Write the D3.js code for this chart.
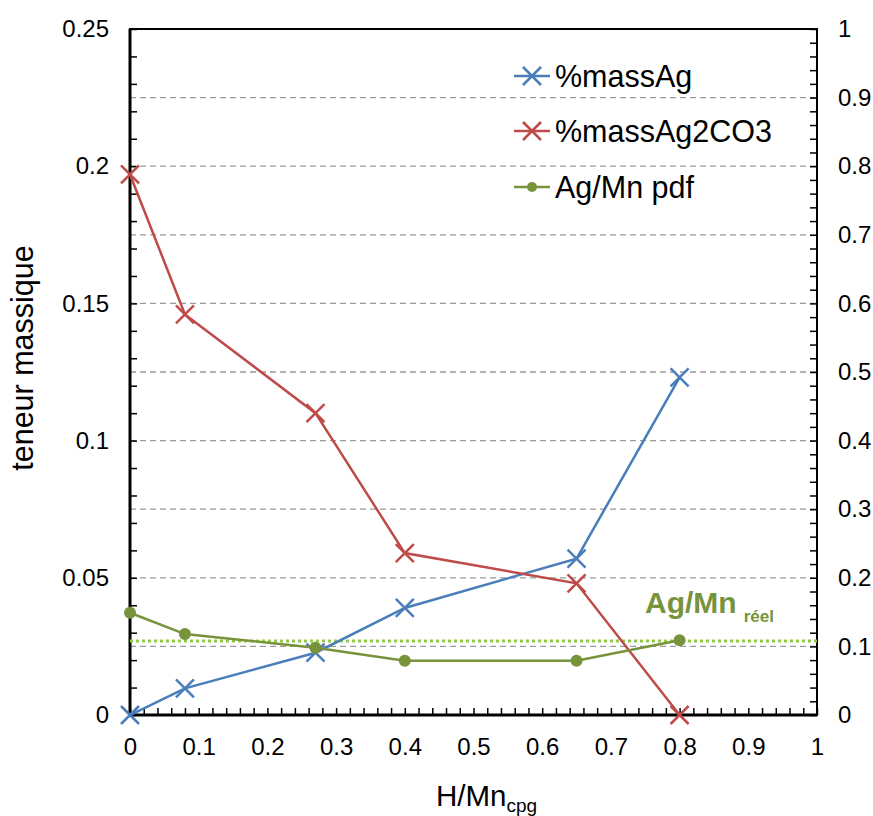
<!DOCTYPE html>
<html><head><meta charset="utf-8">
<script src="https://cdn.jsdelivr.net/npm/d3@7"></script>
<style>body{margin:0;background:#fff}svg{display:block}text{font-family:"Liberation Sans",Arial,sans-serif}</style>
</head><body>
<script>
// Data
const hMn = [0, 0.08, 0.27, 0.4, 0.65, 0.8];
const massAg = [0, 0.0097, 0.0227, 0.039, 0.057, 0.123];
const massAg2CO3 = [0.197, 0.146, 0.110, 0.059, 0.048, 0];
const agMnPdf = [0.149, 0.118, 0.098, 0.079, 0.079, 0.109];
const agMnReel = 0.108;
const leftTicks = [0, 0.05, 0.1, 0.15, 0.2, 0.25];
const rightTicks = [0, 0.1, 0.2, 0.3, 0.4, 0.5, 0.6, 0.7, 0.8, 0.9, 1];
const xTicks = [0, 0.1, 0.2, 0.3, 0.4, 0.5, 0.6, 0.7, 0.8, 0.9, 1];
const seriesNames = ["%massAg", "%massAg2CO3", "Ag/Mn pdf"];

const W = 873, H = 816;
const L = 130, R = 817, T = 29, B = 715;
const svg = d3.select("body").append("svg").attr("width", W).attr("height", H);

const x = d3.scaleLinear().domain([0, 1]).range([L, R]);
const yL = d3.scaleLinear().domain([0, 0.25]).range([B, T]);
const yR = d3.scaleLinear().domain([0, 1]).range([B, T]);
const fmt = d => String(+(+d).toFixed(2));

// gridlines (right axis 0.1 steps)
svg.append("g").selectAll("line").data(rightTicks.filter(d => d > 0 && d < 1)).join("line")
  .attr("x1", L).attr("x2", R).attr("y1", d => yR(d)).attr("y2", d => yR(d))
  .attr("stroke", "#9a9a9a").attr("stroke-width", 1.3).attr("stroke-dasharray", "6,4");

// minor ticks
const minorL = d3.range(0, 0.2501, 0.01);
const minorR = d3.range(0, 1.0001, 0.02);
const minorX = d3.range(0, 1.0001, 0.02);
svg.append("g").attr("transform", `translate(${L},0)`)
  .call(d3.axisLeft(yL).tickValues(minorL).tickSize(-7).tickFormat(""))
  .call(g => { g.select(".domain").remove(); g.selectAll("line").attr("stroke", "#000").attr("stroke-width", 1.5); });
svg.append("g").attr("transform", `translate(${R},0)`)
  .call(d3.axisRight(yR).tickValues(minorR).tickSize(-7).tickFormat(""))
  .call(g => { g.select(".domain").remove(); g.selectAll("line").attr("stroke", "#000").attr("stroke-width", 1.5); });
svg.append("g").attr("transform", `translate(0,${B})`)
  .call(d3.axisBottom(x).tickValues(minorX).tickSize(-7).tickFormat(""))
  .call(g => { g.select(".domain").remove(); g.selectAll("line").attr("stroke", "#000").attr("stroke-width", 1.5); });

// labels
svg.append("g").attr("transform", `translate(${L},0)`)
  .call(d3.axisLeft(yL).tickValues(leftTicks).tickSize(0).tickPadding(21).tickFormat(fmt))
  .call(g => { g.select(".domain").remove(); g.selectAll("text").attr("font-size", 24).attr("fill", "#000"); });
svg.append("g").attr("transform", `translate(${R},0)`)
  .call(d3.axisRight(yR).tickValues(rightTicks).tickSize(0).tickPadding(21).tickFormat(fmt))
  .call(g => { g.select(".domain").remove(); g.selectAll("text").attr("font-size", 24).attr("fill", "#000"); });
svg.append("g").attr("transform", `translate(0,${B})`)
  .call(d3.axisBottom(x).tickValues(xTicks).tickSize(0).tickPadding(23).tickFormat(fmt))
  .call(g => { g.select(".domain").remove(); g.selectAll("text").attr("font-size", 24).attr("fill", "#000"); });

// frame
svg.append("rect").attr("x", L).attr("y", T).attr("width", R - L).attr("height", B - T)
  .attr("fill", "none").attr("stroke", "#000").attr("stroke-width", 2);
svg.append("line").attr("x1", L).attr("x2", L).attr("y1", T).attr("y2", B).attr("stroke", "#000").attr("stroke-width", 3);
svg.append("line").attr("x1", L).attr("x2", R).attr("y1", B).attr("y2", B).attr("stroke", "#000").attr("stroke-width", 3);

// Ag/Mn réel dotted line
svg.append("line").attr("x1", L).attr("x2", R).attr("y1", yR(agMnReel)).attr("y2", yR(agMnReel))
  .attr("stroke", "#92c84a").attr("stroke-width", 3).attr("stroke-dasharray", "3,3");
const reel = svg.append("text").attr("x", 645).attr("y", 613).attr("fill", "#77933c")
  .attr("font-weight", "bold").attr("font-family", "Lato, 'Open Sans', sans-serif").attr("font-size", 30);
reel.append("tspan").text("Ag/Mn");
reel.append("tspan").attr("dx", 7).attr("dy", 9).attr("font-size", 17).text("réel");

// series
const colors = ["#4a7ebb", "#be4b48", "#77933c"];
const series = [
  {vals: massAg, y: yL, c: colors[0], m: "x"},
  {vals: massAg2CO3, y: yL, c: colors[1], m: "x"},
  {vals: agMnPdf, y: yR, c: colors[2], m: "o"}
];
const xMark = (g, cx, cy, c, s) => {
  g.append("path").attr("d", `M${cx - s},${cy - s}L${cx + s},${cy + s}M${cx - s},${cy + s}L${cx + s},${cy - s}`)
    .attr("stroke", c).attr("stroke-width", 2.5).attr("fill", "none");
};
series.forEach(s => {
  const pts = hMn.map((h, i) => [x(h), s.y(s.vals[i])]);
  svg.append("path").attr("d", d3.line()(pts)).attr("fill", "none").attr("stroke", s.c).attr("stroke-width", 2.5);
  const g = svg.append("g");
  pts.forEach(p => {
    if (s.m === "x") xMark(g, p[0], p[1], s.c, 9);
    else g.append("circle").attr("cx", p[0]).attr("cy", p[1]).attr("r", 6).attr("fill", s.c);
  });
});

// legend
const legY = [76, 131, 187];
seriesNames.forEach((n, i) => {
  const g = svg.append("g");
  g.append("line").attr("x1", 514).attr("x2", 550).attr("y1", legY[i]).attr("y2", legY[i])
    .attr("stroke", colors[i]).attr("stroke-width", 2.5);
  if (i < 2) xMark(g, 532, legY[i], colors[i], 9);
  else g.append("circle").attr("cx", 532).attr("cy", legY[i]).attr("r", 5).attr("fill", colors[i]);
  g.append("text").attr("x", 555).attr("y", legY[i] + 11).attr("font-size", 30.5).attr("fill", "#000").text(n);
});

// axis titles
svg.append("text").attr("transform", `translate(33,358) rotate(-90)`).attr("text-anchor", "middle")
  .attr("font-size", 30.5).attr("fill", "#000").text("teneur massique");
const xt = svg.append("text").attr("x", 436).attr("y", 806).attr("font-size", 29.5).attr("fill", "#000");
xt.append("tspan").text("H/Mn");
xt.append("tspan").attr("dy", 6).attr("font-size", 19).text("cpg");
</script>
</body></html>
